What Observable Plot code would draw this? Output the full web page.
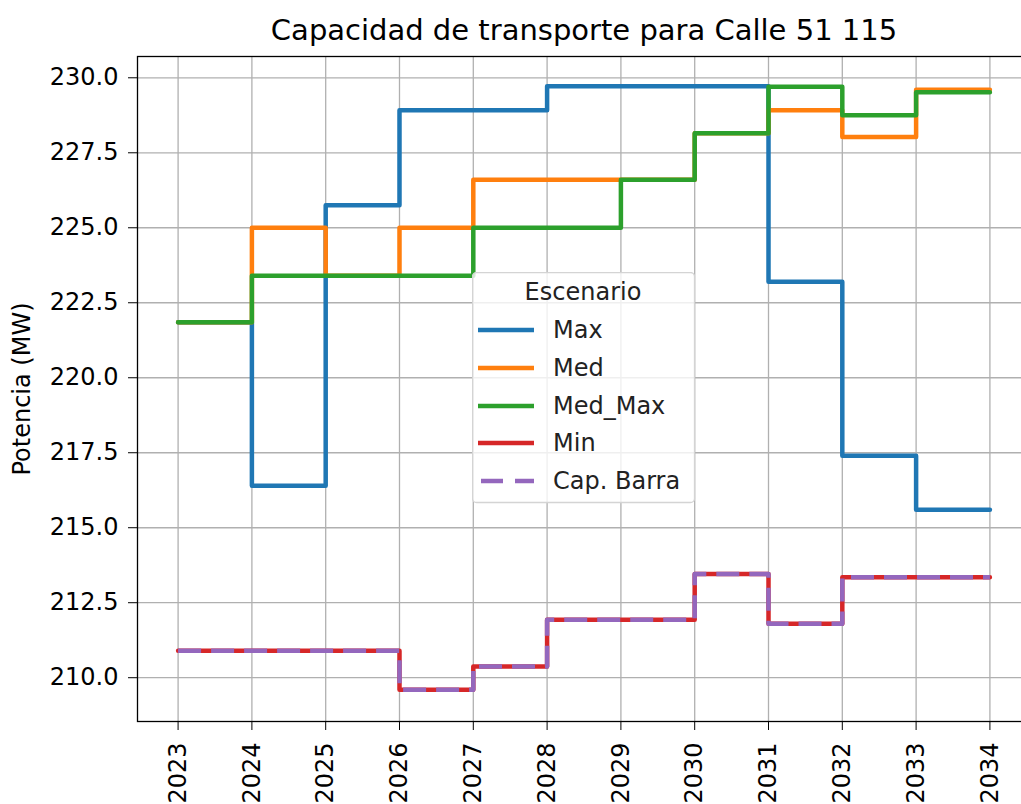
<!DOCTYPE html>
<html>
<head>
<meta charset="utf-8">
<script src="https://cdn.jsdelivr.net/npm/d3@7"></script>
<script src="https://cdn.jsdelivr.net/npm/@observablehq/plot@0.6"></script>
<style>
  html, body { margin: 0; padding: 0; overflow: hidden; background: white; }
  #wrap { position: relative; width: 1021px; height: 804px; overflow: hidden; }
  #wrap > svg.plot { max-width: none !important; width: 1032px; height: 804px; }
  #legend { position: absolute; left: 472px; top: 272px; }
</style>
</head>
<body>
<div id="wrap"></div>
<script>
const years = [2023, 2024, 2025, 2026, 2027, 2028, 2029, 2030, 2031, 2032, 2033, 2034];
const maxVals    = [221.85, 216.40, 225.75, 228.92, 228.92, 229.72, 229.72, 229.72, 223.20, 217.40, 215.60, 215.60];
const medVals    = [221.85, 225.00, 223.40, 225.00, 226.60, 226.60, 226.60, 228.15, 228.92, 228.03, 229.60, 229.60];
const medMaxVals = [221.85, 223.40, 223.40, 223.40, 225.00, 225.00, 226.60, 228.15, 229.70, 228.75, 229.52, 229.52];
const minVals    = [210.90, 210.90, 210.90, 209.60, 210.37, 211.93, 211.93, 213.46, 211.80, 213.35, 213.35, 213.35];
const capBarraVals = [210.90, 210.90, 210.90, 209.60, 210.37, 211.93, 211.93, 213.46, 211.80, 213.35, 213.35, 213.35];
const seriesNames = ["Max", "Med", "Med_Max", "Min", "Cap. Barra"];
const seriesColors = ["#1f77b4", "#ff7f0e", "#2ca02c", "#d62728", "#9467bd"];
const yTicks = [210.0, 212.5, 215.0, 217.5, 220.0, 222.5, 225.0, 227.5, 230.0];
const titleText = "Capacidad de transporte para Calle 51 115";
const yLabel = "Potencia (MW)";
const legendTitle = "Escenario";

const allVals = [maxVals, medVals, medMaxVals, minVals, capBarraVals];
const rows = [];
seriesNames.forEach((s, i) => years.forEach((yr, j) => rows.push({serie: s, year: yr, value: allVals[i][j]})));
const bySerie = s => rows.filter(r => r.serie === s);

const lw = 4.5;
const plot = Plot.plot({
  width: 1032, height: 804,
  marginLeft: 137, marginRight: 2, marginTop: 56, marginBottom: 83,
  style: {fontFamily: "DejaVu Sans", fontSize: "24px", color: "black", background: "white", overflow: "visible", maxWidth: "none"},
  x: {domain: [2022.45, 2034.55], ticks: years, tickFormat: d => String(d), tickRotate: -90, tickSize: 9, tickPadding: 12, label: null},
  y: {domain: [208.54, 230.71], ticks: yTicks, tickFormat: d3.format(".1f"), tickSize: 9, tickPadding: 10, label: null},
  marks: [
    Plot.ruleX(years, {stroke: "#b0b0b0", strokeWidth: 1.3}),
    Plot.ruleY(yTicks, {stroke: "#b0b0b0", strokeWidth: 1.3}),
    Plot.line(bySerie("Max"), {x: "year", y: "value", curve: "step-after", stroke: seriesColors[0], strokeWidth: lw}),
    Plot.line(bySerie("Med"), {x: "year", y: "value", curve: "step-after", stroke: seriesColors[1], strokeWidth: lw}),
    Plot.line(bySerie("Med_Max"), {x: "year", y: "value", curve: "step-after", stroke: seriesColors[2], strokeWidth: lw}),
    Plot.line(bySerie("Min"), {x: "year", y: "value", curve: "step-after", stroke: seriesColors[3], strokeWidth: lw}),
    Plot.line(bySerie("Cap. Barra"), {x: "year", y: "value", curve: "step-after", stroke: seriesColors[4], strokeWidth: lw, strokeDasharray: "23,10", strokeLinecap: "butt"}),
    Plot.frame({stroke: "black", strokeWidth: 1.3}),
    Plot.text([titleText], {text: d => d, frameAnchor: "top", dy: -26, fontSize: 29, lineAnchor: "middle", fill: "black"}),
    Plot.text([yLabel], {text: d => d, frameAnchor: "left", dx: -115, rotate: -90, fontSize: 24, textAnchor: "middle", lineAnchor: "middle", fill: "black"})
  ]
});
plot.style.maxWidth = "none";
document.getElementById("wrap").appendChild(plot);

// Legend overlay
const lg = d3.select("#wrap").append("svg").attr("id", "legend")
  .attr("width", 224).attr("height", 232)
  .style("font-family", "DejaVu Sans").style("font-size", "24px");
lg.append("rect").attr("x", 0.5).attr("y", 0.5).attr("width", 222).attr("height", 230).attr("rx", 4)
  .attr("fill", "rgba(255,255,255,0.8)").attr("stroke", "#d4d4d4").attr("stroke-width", 1.3);
lg.append("text").attr("x", 111).attr("y", 20).attr("text-anchor", "middle").attr("dominant-baseline", "central").attr("fill", "#222").text(legendTitle);
const rowY = [58, 96, 134, 171, 209];
seriesNames.forEach((s, i) => {
  const l = lg.append("line").attr("x1", 6).attr("x2", 62).attr("y1", rowY[i]).attr("y2", rowY[i])
    .attr("stroke", seriesColors[i]).attr("stroke-width", lw);
  if (s === "Cap. Barra") l.attr("stroke-dasharray", "22,12").attr("x1", 9).attr("x2", 62);
  lg.append("text").attr("x", 81).attr("y", rowY[i]).attr("dominant-baseline", "central").attr("fill", "#222").text(s);
});
</script>
</body>
</html>
